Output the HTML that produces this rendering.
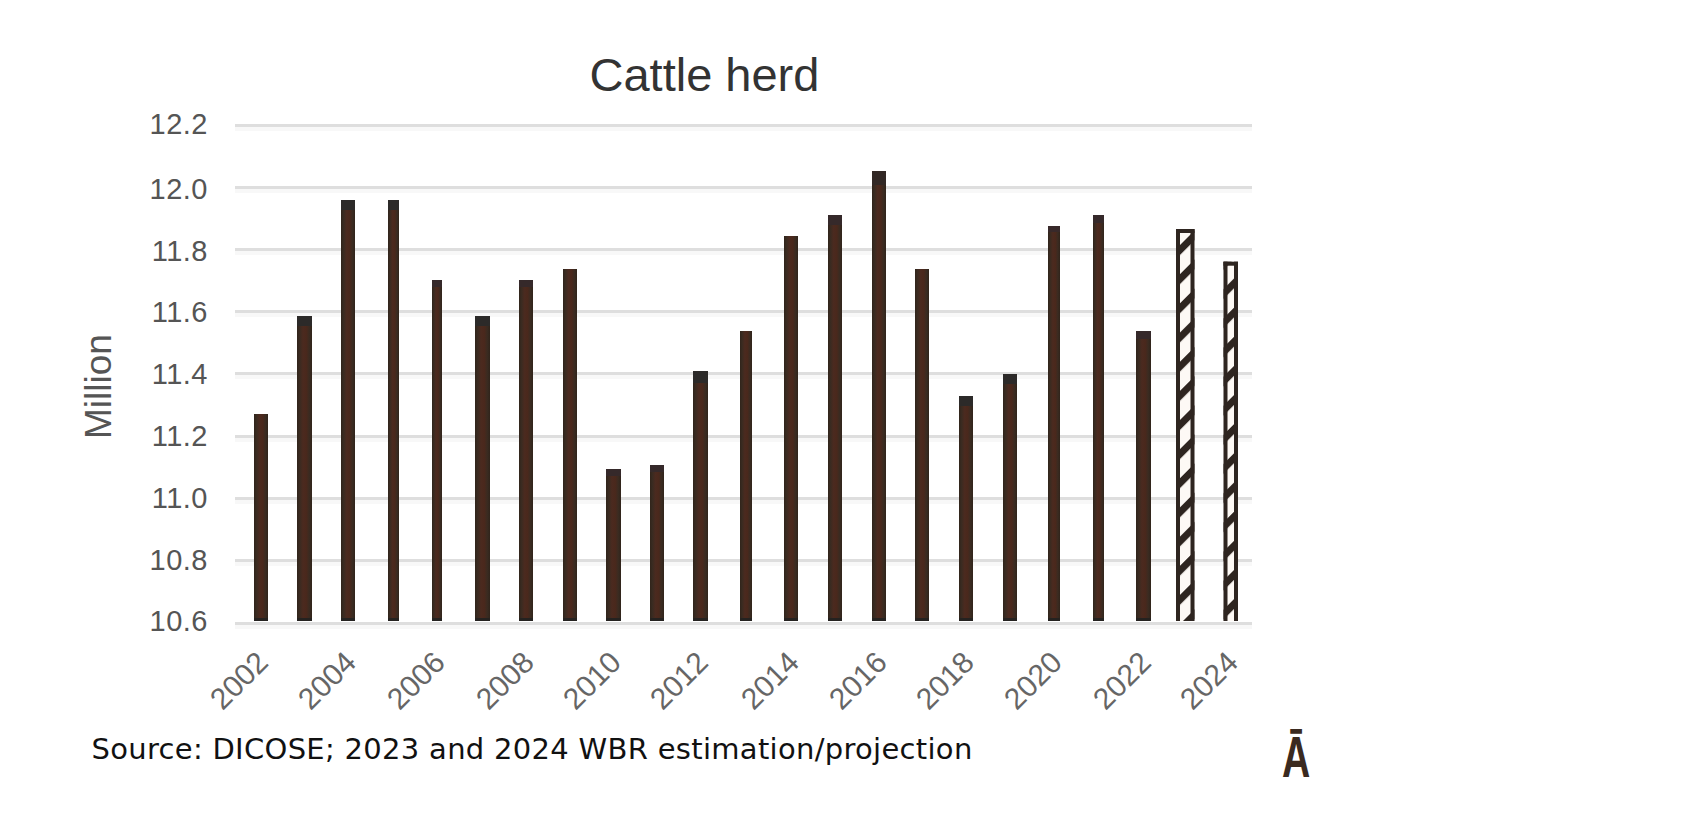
<!DOCTYPE html>
<html><head><meta charset="utf-8"><title>Cattle herd</title>
<style>
html,body{margin:0;padding:0;background:#fff;}
body{width:1696px;height:834px;position:relative;overflow:hidden;font-family:"Liberation Sans",Arial,sans-serif;}
.a{position:absolute;white-space:nowrap;}
.g{position:absolute;left:235px;width:1017px;height:3px;background:#dedede;}
.g2{position:absolute;left:235px;width:1017px;height:4px;background:#f8f8f8;}
.b{position:absolute;background:linear-gradient(90deg,#30241b,#3a2b21 18%,#4b2a1f 40%,#4a281c 62%,#3a2b21 82%,#30241b);}
.yl{position:absolute;right:1488px;font-size:29px;letter-spacing:0.5px;color:#555;line-height:30px;height:30px;white-space:nowrap;}
.xl{position:absolute;font-size:30px;color:#666;line-height:30px;height:30px;white-space:nowrap;transform-origin:100% 50%;transform:rotate(-45deg);}
svg{position:absolute;left:0;top:0;}
</style></head><body>

<div class="g" style="top:124.0px"></div><div class="g2" style="top:127.0px"></div>
<div class="yl" style="top:108.6px">12.2</div>
<div class="g" style="top:186.1px"></div><div class="g2" style="top:189.1px"></div>
<div class="yl" style="top:174.0px">12.0</div>
<div class="g" style="top:248.2px"></div><div class="g2" style="top:251.2px"></div>
<div class="yl" style="top:235.6px">11.8</div>
<div class="g" style="top:310.3px"></div><div class="g2" style="top:313.3px"></div>
<div class="yl" style="top:297.0px">11.6</div>
<div class="g" style="top:372.4px"></div><div class="g2" style="top:375.4px"></div>
<div class="yl" style="top:359.0px">11.4</div>
<div class="g" style="top:434.5px"></div><div class="g2" style="top:437.5px"></div>
<div class="yl" style="top:420.7px">11.2</div>
<div class="g" style="top:496.6px"></div><div class="g2" style="top:499.6px"></div>
<div class="yl" style="top:482.8px">11.0</div>
<div class="g" style="top:558.7px"></div><div class="g2" style="top:561.7px"></div>
<div class="yl" style="top:544.5px">10.8</div>
<div class="g" style="top:621.8px"></div><div class="g2" style="top:624.8px"></div>
<div class="yl" style="top:606.2px">10.6</div>
<div class="b" style="left:253.5px;top:414.0px;width:14.5px;height:207.0px"></div>
<div class="b" style="left:253.5px;top:617.5px;width:14.5px;height:3.5px;background:#252220"></div>
<div class="b" style="left:297.0px;top:316.0px;width:14.6px;height:305.0px"></div>
<div class="b" style="left:297.0px;top:617.5px;width:14.6px;height:3.5px;background:#252220"></div>
<div class="b" style="left:297.0px;top:316.0px;width:14.6px;height:10px;background:#2c2a29"></div>
<div class="b" style="left:340.8px;top:200.0px;width:14.4px;height:421.0px"></div>
<div class="b" style="left:340.8px;top:617.5px;width:14.4px;height:3.5px;background:#252220"></div>
<div class="b" style="left:340.8px;top:200.0px;width:14.4px;height:10px;background:#2c2a29"></div>
<div class="b" style="left:388.0px;top:200.0px;width:11.0px;height:421.0px"></div>
<div class="b" style="left:388.0px;top:617.5px;width:11.0px;height:3.5px;background:#252220"></div>
<div class="b" style="left:388.0px;top:200.0px;width:11.0px;height:10px;background:#2c2a29"></div>
<div class="b" style="left:432.0px;top:280.0px;width:10.0px;height:341.0px"></div>
<div class="b" style="left:432.0px;top:617.5px;width:10.0px;height:3.5px;background:#252220"></div>
<div class="b" style="left:432.0px;top:280.0px;width:10.0px;height:7px;background:#35292a"></div>
<div class="b" style="left:475.0px;top:316.0px;width:14.6px;height:305.0px"></div>
<div class="b" style="left:475.0px;top:617.5px;width:14.6px;height:3.5px;background:#252220"></div>
<div class="b" style="left:475.0px;top:316.0px;width:14.6px;height:10px;background:#2c2a29"></div>
<div class="b" style="left:519.0px;top:280.0px;width:14.0px;height:341.0px"></div>
<div class="b" style="left:519.0px;top:617.5px;width:14.0px;height:3.5px;background:#252220"></div>
<div class="b" style="left:519.0px;top:280.0px;width:14.0px;height:7px;background:#35292a"></div>
<div class="b" style="left:563.0px;top:269.0px;width:14.0px;height:352.0px"></div>
<div class="b" style="left:563.0px;top:617.5px;width:14.0px;height:3.5px;background:#252220"></div>
<div class="b" style="left:606.0px;top:469.4px;width:14.5px;height:151.6px"></div>
<div class="b" style="left:606.0px;top:617.5px;width:14.5px;height:3.5px;background:#252220"></div>
<div class="b" style="left:606.0px;top:469.4px;width:14.5px;height:7px;background:#35292a"></div>
<div class="b" style="left:650.0px;top:465.4px;width:14.0px;height:155.6px"></div>
<div class="b" style="left:650.0px;top:617.5px;width:14.0px;height:3.5px;background:#252220"></div>
<div class="b" style="left:650.0px;top:465.4px;width:14.0px;height:7px;background:#35292a"></div>
<div class="b" style="left:693.0px;top:371.0px;width:15.0px;height:250.0px"></div>
<div class="b" style="left:693.0px;top:617.5px;width:15.0px;height:3.5px;background:#252220"></div>
<div class="b" style="left:693.0px;top:371.0px;width:15.0px;height:12px;background:#2c2a29"></div>
<div class="b" style="left:740.0px;top:331.0px;width:12.0px;height:290.0px"></div>
<div class="b" style="left:740.0px;top:617.5px;width:12.0px;height:3.5px;background:#252220"></div>
<div class="b" style="left:784.0px;top:236.0px;width:14.0px;height:385.0px"></div>
<div class="b" style="left:784.0px;top:617.5px;width:14.0px;height:3.5px;background:#252220"></div>
<div class="b" style="left:828.0px;top:214.6px;width:14.0px;height:406.4px"></div>
<div class="b" style="left:828.0px;top:617.5px;width:14.0px;height:3.5px;background:#252220"></div>
<div class="b" style="left:828.0px;top:214.6px;width:14.0px;height:10px;background:#35292a"></div>
<div class="b" style="left:872.0px;top:171.0px;width:14.0px;height:450.0px"></div>
<div class="b" style="left:872.0px;top:617.5px;width:14.0px;height:3.5px;background:#252220"></div>
<div class="b" style="left:872.0px;top:171.0px;width:14.0px;height:14px;background:#322825"></div>
<div class="b" style="left:915.0px;top:269.0px;width:14.0px;height:352.0px"></div>
<div class="b" style="left:915.0px;top:617.5px;width:14.0px;height:3.5px;background:#252220"></div>
<div class="b" style="left:959.0px;top:396.0px;width:14.0px;height:225.0px"></div>
<div class="b" style="left:959.0px;top:617.5px;width:14.0px;height:3.5px;background:#252220"></div>
<div class="b" style="left:959.0px;top:396.0px;width:14.0px;height:10px;background:#2c2a29"></div>
<div class="b" style="left:1003.0px;top:374.0px;width:13.5px;height:247.0px"></div>
<div class="b" style="left:1003.0px;top:617.5px;width:13.5px;height:3.5px;background:#252220"></div>
<div class="b" style="left:1003.0px;top:374.0px;width:13.5px;height:10px;background:#2c2a29"></div>
<div class="b" style="left:1048.0px;top:225.5px;width:12.0px;height:395.5px"></div>
<div class="b" style="left:1048.0px;top:617.5px;width:12.0px;height:3.5px;background:#252220"></div>
<div class="b" style="left:1048.0px;top:225.5px;width:12.0px;height:6px;background:#38292a"></div>
<div class="b" style="left:1092.5px;top:214.6px;width:11.5px;height:406.4px"></div>
<div class="b" style="left:1092.5px;top:617.5px;width:11.5px;height:3.5px;background:#252220"></div>
<div class="b" style="left:1092.5px;top:214.6px;width:11.5px;height:8px;background:#35292a"></div>
<div class="b" style="left:1136.0px;top:331.0px;width:15.0px;height:290.0px"></div>
<div class="b" style="left:1136.0px;top:617.5px;width:15.0px;height:3.5px;background:#252220"></div>
<div class="b" style="left:1136.0px;top:331.0px;width:15.0px;height:8px;background:#35292a"></div>
<svg width="1696" height="834" viewBox="0 0 1696 834"><defs><pattern id="hp" patternUnits="userSpaceOnUse" width="20.612" height="40" patternTransform="rotate(45) translate(-2.33 0)"><rect x="0" y="0" width="20.612" height="40" fill="#fdf9f5"/><rect x="0" y="0" width="7" height="40" fill="#2e2520"/></pattern></defs><rect x="1176" y="229" width="18.5" height="392.0" fill="url(#hp)"/><rect x="1176" y="229" width="4" height="392.0" fill="#2e2520"/><rect x="1190.5" y="229" width="4" height="392.0" fill="#2e2520"/><rect x="1176" y="229" width="18.5" height="4" fill="#2e2520"/><rect x="1223.5" y="261.7" width="14.5" height="359.3" fill="url(#hp)"/><rect x="1223.5" y="261.7" width="4" height="359.3" fill="#2e2520"/><rect x="1234.0" y="261.7" width="4" height="359.3" fill="#2e2520"/><rect x="1223.5" y="261.7" width="14.5" height="4" fill="#2e2520"/></svg>
<div class="xl" style="right:1432.8px;top:641.5px">2002</div>
<div class="xl" style="right:1345.5px;top:641.5px">2004</div>
<div class="xl" style="right:1256.5px;top:641.5px">2006</div>
<div class="xl" style="right:1167.5px;top:641.5px">2008</div>
<div class="xl" style="right:1080.2px;top:641.5px">2010</div>
<div class="xl" style="right:993.0px;top:641.5px">2012</div>
<div class="xl" style="right:902.5px;top:641.5px">2014</div>
<div class="xl" style="right:814.5px;top:641.5px">2016</div>
<div class="xl" style="right:727.5px;top:641.5px">2018</div>
<div class="xl" style="right:639.5px;top:641.5px">2020</div>
<div class="xl" style="right:550.0px;top:641.5px">2022</div>
<div class="xl" style="right:462.8px;top:641.5px">2024</div>
<div class="a" style="left:589.5px;top:44.5px;font-size:47px;color:#333;line-height:60px">Cattle herd</div>
<div class="a" style="left:79px;top:438.5px;font-size:37px;color:#555;transform-origin:0 0;transform:rotate(-90deg);line-height:40px">Million</div>
<div class="a" style="left:91.5px;top:730.5px;font-family:'DejaVu Sans',Verdana,sans-serif;font-size:29px;letter-spacing:0.3px;color:#111;line-height:36px">Source: DICOSE; 2023 and 2024 WBR estimation/projection</div>
<div class="a" style="left:1282px;top:722px;font-size:58px;font-weight:bold;color:#3a2a20;line-height:70px;transform-origin:0 0;transform:scaleX(0.675)">&#256;</div>
</body></html>
